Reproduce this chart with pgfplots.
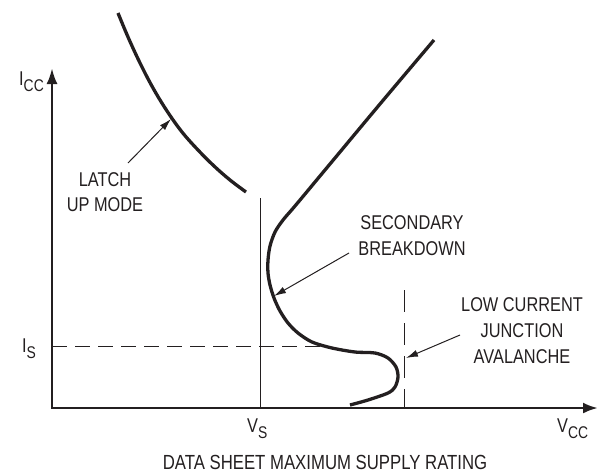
\documentclass[border=0pt]{standalone}
\usepackage{pgfplots}
\pgfplotsset{compat=1.18}
\usetikzlibrary{arrows.meta}
\usepackage{fontspec}
\setmainfont[FakeStretch=0.82]{Liberation Sans}
\definecolor{ink}{HTML}{231F20}
\newcommand{\lbl}{\fontsize{20}{26}\selectfont}
\newcommand{\sub}[1]{\raisebox{-6bp}{\fontsize{17}{17}\selectfont #1}}
\begin{document}
\begin{tikzpicture}
\begin{axis}[
  scale only axis, width=600bp, height=472bp,
  xmin=0, xmax=600, ymin=0, ymax=472, y dir=reverse,
  hide axis, clip=false,
]
% axes
\addplot[ink, line width=2.7bp, {Latex[length=16bp,width=11bp]}-{Latex[length=15bp,width=11bp]}] coordinates {(52,68) (52,408) (598,408)};
% Vs line
\addplot[ink, line width=1bp] coordinates {(260,198) (260,408)};
% Is dashed line
\addplot[ink, line width=1bp, dash pattern=on 15bp off 8bp] coordinates {(52,346) (320,346)};
% vertical dashed
\addplot[ink, line width=1bp, dash pattern=on 22bp off 11bp] coordinates {(404,290) (404,408)};
% latch-up curve
\addplot[ink, line width=3.3bp, smooth, tension=0.6] coordinates {
(118,13) (128,37) (140,63) (153,88) (167,111) (182,132) (198,150) (214,166) (230,180) (246,192)};
% main curve
\addplot[ink, line width=3.3bp, smooth, tension=0.5] coordinates {
(434,40) (380,104) (325,170) (295,206) (283,220) (275,232) (270,246) (268,260) (268,273) (270,285) (274,298) (280,311) (288,323) (298,333) (312,342) (332,348) (355,352) (375,353) (388,358) (396,367) (398,377) (395,387) (388,393) (368,400) (350,405)};
% label arrows
\addplot[ink, line width=1bp, -{Latex[length=12bp,width=7bp]}] coordinates {(128,163) (171,119)};
\addplot[ink, line width=1bp, -{Latex[length=12bp,width=7bp]}] coordinates {(349,253) (274,296)};
\addplot[ink, line width=1bp, -{Latex[length=12bp,width=7bp]}] coordinates {(460,335) (406,358)};
% labels
\node[anchor=base, text=ink, inner sep=0pt] at (axis cs:105,186) {\lbl LATCH};
\node[anchor=base, text=ink, inner sep=0pt] at (axis cs:105,211) {\lbl UP MODE};
\node[anchor=base, text=ink, inner sep=0pt] at (axis cs:412,229) {\lbl SECONDARY};
\node[anchor=base, text=ink, inner sep=0pt] at (axis cs:412,255) {\lbl BREAKDOWN};
\node[anchor=base, text=ink, inner sep=0pt] at (axis cs:522,311) {\lbl LOW CURRENT};
\node[anchor=base, text=ink, inner sep=0pt] at (axis cs:522,337) {\lbl JUNCTION};
\node[anchor=base, text=ink, inner sep=0pt] at (axis cs:522,363) {\lbl AVALANCHE};
\node[anchor=base, text=ink, inner sep=0pt] at (axis cs:325,469) {\fontsize{20.5}{24}\selectfont DATA SHEET MAXIMUM SUPPLY RATING};
\node[anchor=base west, text=ink, inner sep=0pt] at (axis cs:19,85) {\lbl I\sub{CC}};
\node[anchor=base west, text=ink, inner sep=0pt] at (axis cs:22,352) {\lbl I\sub{S}};
\node[anchor=base west, text=ink, inner sep=0pt] at (axis cs:247,432) {\lbl V\sub{S}};
\node[anchor=base west, text=ink, inner sep=0pt] at (axis cs:557,432) {\lbl V\sub{CC}};
\end{axis}
\pgfresetboundingbox
\path (current axis.south west) rectangle (current axis.north east);
\end{tikzpicture}
\end{document}
